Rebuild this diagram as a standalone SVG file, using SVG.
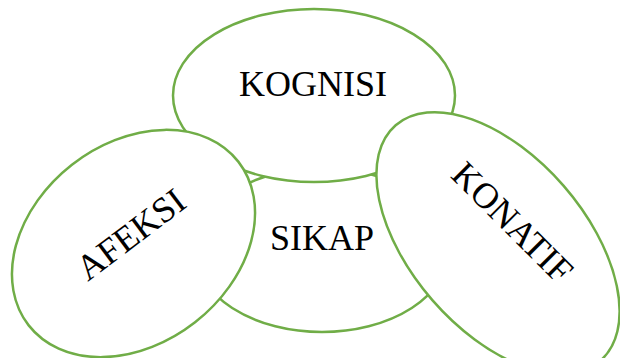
<svg xmlns="http://www.w3.org/2000/svg" width="620" height="358" viewBox="0 0 620 358">
<style>
.shape{fill:#ffffff;stroke:#70AD47;stroke-width:2.5}
.lbl{font-family:"Liberation Serif","Times New Roman",serif;font-size:36px;fill:#000000;text-anchor:middle}
</style>
<rect x="0" y="0" width="620" height="358" fill="#ffffff"/>
<g id="connectors"></g>
<g id="sikap">
<ellipse class="shape" cx="322" cy="250" rx="127" ry="82"/>
<text class="lbl" x="322" y="250">SIKAP</text>
</g>
<g id="kognisi">
<ellipse class="shape" cx="314" cy="95.5" rx="141" ry="86.5"/>
<text class="lbl" x="313" y="96">KOGNISI</text>
</g>
<g id="afeksi">
<ellipse class="shape" cx="133.5" cy="243.5" rx="133" ry="100" transform="rotate(-38 133.5 243.5)"/>
<text class="lbl" transform="translate(138 244) rotate(-37)">AFEKSI</text>
</g>
<g id="konatif">
<ellipse class="shape" cx="498" cy="243" rx="156" ry="87" transform="rotate(49 498 243)"/>
<text class="lbl" transform="translate(504 231) rotate(45)">KONATIF</text>
</g>
</svg>
